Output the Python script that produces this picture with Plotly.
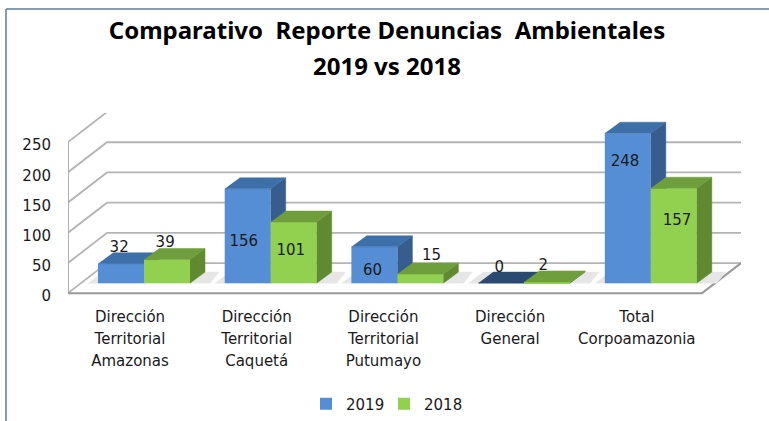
import plotly.graph_objects as go

categories = ["Dirección<br>Territorial<br>Amazonas", "Dirección<br>Territorial<br>Caquetá",
              "Dirección<br>Territorial<br>Putumayo", "Dirección<br>General", "Total<br>Corpoamazonia"]
values_2019 = [32, 156, 60, 0, 248]
values_2018 = [39, 101, 15, 2, 157]
y_ticks = [0, 50, 100, 150, 200, 250]
# estimated height of each value label on the chart's value scale
label_y_2019 = [75, 84, 37, 42, 217]
label_y_2018 = [82, 69, 61, 44, 119]
# sideways nudge of each label, in pixels
label_dx_2019 = [0, -2, 0, 0, -1]
label_dx_2018 = [0, -1, 13, -2, 5]

W, H = 769, 421
PY = 0.604
Y_MIN = -8
L, R, T, B = 68, 741, 113, 293 - Y_MIN * PY
X0, DX = 130, 126.7
xr = [(L - X0) / DX, (R - X0) / DX]
yr = [Y_MIN, Y_MIN + (B - T) / PY]
wall_dx, wall_dy = 39 / DX, 30 / PY      # depth of the chart's floor
bar_dx, bar_dy = 15 / DX, 11 / PY        # depth of a bar
base = 16.6                              # bars stand part way back on the floor
bw = 46 / DX
off_a = -32 / DX
off_b = 14 / DX

C_2019 = ["#558ed5", "#3d6fa8", "#365d8e"]
C_2018 = ["#92d050", "#6f9f3c", "#5f8a30"]
TXT = "#1a1a1a"
FONT = "DejaVu Sans"
GRID = "#b4b4b4"

fig = go.Figure()


def poly(xs, ys, color, axis=("x", "y")):
    fig.add_trace(go.Scatter(x=xs, y=ys, mode="lines", fill="toself", fillcolor=color,
                             line=dict(color=color, width=0.5), hoverinfo="skip", showlegend=False,
                             xaxis=axis[0], yaxis=axis[1]))


def line(xs, ys, color=GRID, width=1.8):
    fig.add_trace(go.Scatter(x=xs, y=ys, mode="lines", line=dict(color=color, width=width),
                             hoverinfo="skip", showlegend=False, xaxis="x", yaxis="y", cliponaxis=False))


# walls and floor
right_front = xr[1] - wall_dx
for t in y_ticks:
    line([xr[0], xr[0] + wall_dx, xr[1]], [t, t + wall_dy, t + wall_dy])
line([xr[0], xr[0]], [0, 250], "#a8a8a8", 1.8)
line([xr[0], right_front, xr[1]], [0, 0, wall_dy], "#999999", 2)

# floor shadows
for i in range(len(categories)):
    a = i + off_a - 10 / DX
    b = i + off_b + bw + 20 / DX
    poly([a, b, b + bar_dx * 0.6, a + bar_dx], [base, base, base + bar_dy, base + bar_dy], "#e6e6e6")


def bars(vals, offset, name, colors, axes):
    fig.add_trace(go.Bar(x=list(range(len(vals))), y=vals, base=[base] * len(vals), offset=offset, width=bw,
                         name=name, marker=dict(color=colors[0], line=dict(width=0)), hoverinfo="skip",
                         xaxis=axes[0], yaxis=axes[1]))
    for i, v in enumerate(vals):
        x1, x2 = i + offset, i + offset + bw
        top = base + v
        poly([x2, x2 + bar_dx, x2 + bar_dx, x2], [base, base + bar_dy, top + bar_dy, top], colors[2], axes)
        top_color = colors[1] if (v > 0 or colors is C_2018) else "#2a4a72"
        poly([x1, x2, x2 + bar_dx, x1 + bar_dx], [top, top, top + bar_dy, top + bar_dy], top_color, axes)


bars(values_2019, off_a, "2019", C_2019, ("x2", "y2"))
bars(values_2018, off_b, "2018", C_2018, ("x3", "y3"))

# data labels
x_a = [i + off_a + bw * 0.46 + d / DX for i, d in enumerate(label_dx_2019)]
x_b = [i + off_b + bw * 0.46 + d / DX for i, d in enumerate(label_dx_2018)]
fig.add_trace(go.Scatter(x=x_a + x_b, y=label_y_2019 + label_y_2018, mode="text",
                         text=[str(v) for v in values_2019 + values_2018],
                         textposition="middle center", textfont=dict(family=FONT, size=15, color=TXT),
                         hoverinfo="skip", showlegend=False, cliponaxis=False, xaxis="x3", yaxis="y3"))

hidden = dict(visible=False, fixedrange=True)
fig.update_layout(
    width=W, height=H, autosize=False, margin=dict(l=L, r=W - R, t=T, b=H - B),
    paper_bgcolor="white", plot_bgcolor="white", barmode="overlay",
    title=dict(text='<span style="font-size:24px">Comparativo  Reporte Denuncias  Ambientales</span><br>'
                    '<span style="font-size:24px">2019 vs 2018</span>',
               font=dict(family="Noto Sans", size=28, color="#000000", weight="bold"),
               x=387 / W, xanchor="center", y=1 - 39 / H, yanchor="top"),
    xaxis=dict(range=xr, tickvals=list(range(5)),
               ticktext=['<span style="font-size:15px">' + c.replace("<br>", '</span><br><span style="font-size:15px">') + "</span>" for c in categories],
               tickangle=0, tickfont=dict(family=FONT, size=17, color=TXT), showgrid=False, zeroline=False,
               showline=False, ticks="", ticklabelstandoff=6),
    yaxis=dict(range=yr, tickvals=[t - 5 for t in y_ticks], ticktext=[str(t) for t in y_ticks],
               tickfont=dict(family=FONT, size=15, color=TXT), showgrid=False,
               zeroline=False, showline=False, ticks="", ticklabelstandoff=16),
    xaxis2=dict(range=xr, overlaying="x", **hidden), yaxis2=dict(range=yr, overlaying="y", **hidden),
    xaxis3=dict(range=xr, overlaying="x", **hidden), yaxis3=dict(range=yr, overlaying="y", **hidden),
    legend=dict(orientation="h", x=384 / W, xref="container", xanchor="center", y=1 - 404 / H, yref="container",
                yanchor="middle", font=dict(family=FONT, size=15, color=TXT), bgcolor="rgba(0,0,0,0)",
                entrywidth=33, entrywidthmode="pixels", traceorder="normal"),
    shapes=[
        dict(type="line", xref="paper", yref="paper", x0=(6 - L) / (R - L), x1=(6 - L) / (R - L),
             y0=(B - 9) / (B - T), y1=(B - H) / (B - T), line=dict(color="#5b7d9c", width=1.5)),
        dict(type="line", xref="paper", yref="paper", x0=(6 - L) / (R - L), x1=(W - L) / (R - L),
             y0=(B - 9) / (B - T), y1=(B - 9) / (B - T), line=dict(color="#5b7d9c", width=1.5)),
    ],
)
fig.write_html("out.html", config=dict(displayModeBar=False),
               post_script="document.body.style.margin='0';document.documentElement.style.overflow='hidden';")
